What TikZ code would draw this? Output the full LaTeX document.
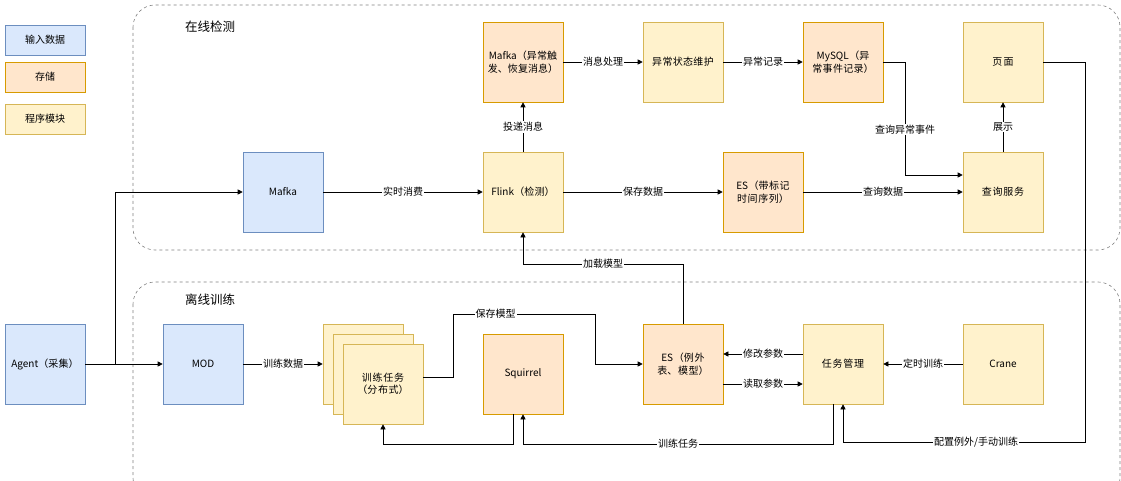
\documentclass[tikz,border=0pt]{standalone}
\usepackage{fontspec}
\setmainfont{Noto Sans CJK SC}
\XeTeXlinebreaklocale "zh"
\XeTeXlinebreakskip=0pt plus 1pt
\usetikzlibrary{arrows.meta}
\definecolor{bF}{HTML}{DAE8FC}\definecolor{bD}{HTML}{6C8EBF}
\definecolor{oF}{HTML}{FFE6CC}\definecolor{oD}{HTML}{D79B00}
\definecolor{yF}{HTML}{FFF2CC}\definecolor{yD}{HTML}{D6B656}
\begin{document}
\begin{tikzpicture}[x=1pt,y=-1pt,font=\fontsize{10}{12.5}\selectfont,
 bx/.style={draw,line width=0.6pt,minimum width=80pt,minimum height=80pt,align=center,text width=74pt,inner sep=1pt},
 inp/.style={bx,fill=bF,draw=bD},
 sto/.style={bx,fill=oF,draw=oD},
 prg/.style={bx,fill=yF,draw=yD},
 leg/.style={draw,line width=0.6pt,minimum width=80pt,minimum height=30pt,align=center},
 ar/.style={-{Triangle[length=5pt,width=5pt]},line width=0.6pt},
 lb/.style={fill=white,inner sep=1pt},
 grp/.style={draw=gray,dashed,line width=0.6pt,rounded corners=22pt}]
\useasboundingbox (0,0) rectangle (1121,481);
\draw[grp] (133,5) rectangle (1120,250);
\draw[grp] (133,282) rectangle (1120,500);
\node[font=\fontsize{12.5}{14}\selectfont] (t1) at (210,27) {在线检测};
\node[font=\fontsize{12.5}{14}\selectfont] (t2) at (210,300) {离线训练};
\node[leg,fill=bF,draw=bD] (l1) at (45,40) {输入数据};
\node[leg,fill=oF,draw=oD] (l2) at (45,77) {存储};
\node[leg,fill=yF,draw=yD] (l3) at (45,119) {程序模块};
\node[inp] (mafka) at (283,192) {Mafka};
\node[prg] (flink) at (523,192) {Flink（检测）};
\node[sto] (mafka2) at (523,62) {Mafka（异常触发、恢复消息）};
\node[prg] (state) at (683,62) {异常状态维护};
\node[sto] (mysql) at (843,62) {MySQL（异常事件记录）};
\node[prg] (page) at (1003,62) {页面};
\node[sto] (es1) at (763,192) {ES（带标记时间序列）};
\node[prg] (query) at (1003,192) {查询服务};
\node[inp] (agent) at (45,364) {Agent（采集）};
\node[inp] (mod) at (203,364) {MOD};
\node[prg] (s1) at (363,364) {};
\node[prg] (s2) at (373,374) {};
\node[prg] (train) at (383,384) {训练任务（分布式）};
\node[sto] (squ) at (523,374) {Squirrel};
\node[sto] (es2) at (683,364) {ES（例外表、模型）};
\node[prg] (task) at (843,364) {任务管理};
\node[prg] (crane) at (1003,364) {Crane};
\coordinate (j) at (115,364);
\draw[ar] (agent) -- (mod);
\draw[ar] (j) |- (mafka);
\draw[ar] (mafka) -- node[lb]{实时消费} (flink);
\draw[ar] (flink) -- node[lb]{保存数据} (es1);
\draw[ar] (es1) -- node[lb]{查询数据} (query);
\draw[ar] (flink) -- node[lb]{投递消息} (mafka2);
\draw[ar] (mafka2) -- node[lb]{消息处理} (state);
\draw[ar] (state) -- node[lb]{异常记录} (mysql);
\draw[ar] (mysql.east) -- (905,62) -- node[lb,pos=0.6]{查询异常事件} (905,175) -- (query.west|-0,175);
\draw[ar] (query) -- node[lb]{展示} (page);
\draw[ar] (page.east) -- (1085,62) -- (1085,442) -- node[lb,pos=0.45]{配置例外/手动训练} (843,442) -- (task.south-|843,0);
\draw[ar] (mod) -- node[lb]{训练数据} (s1);
\draw[ar] (train.east|-0,377) -- (453,377) -- (453,314) -- node[lb,pos=0.3]{保存模型} (595,314) -- (595,364) -- (es2.west);
\draw[ar] (es2.north) -- (683,264) -- node[lb]{加载模型} (523,264) -- (flink.south);
\draw[ar] (task.west|-0,354) -- node[lb]{修改参数} (es2.east|-0,354);
\draw[ar] (es2.east|-0,384) -- node[lb]{读取参数} (task.west|-0,384);
\draw[ar] (crane) -- node[lb]{定时训练} (task);
\draw[ar] (833,404) -- (833,444) -- node[lb]{训练任务} (523,444) -- (squ.south);
\draw[ar] (513,414) -- (513,444) -- (383,444) -- (train.south);
\end{tikzpicture}
\end{document}
